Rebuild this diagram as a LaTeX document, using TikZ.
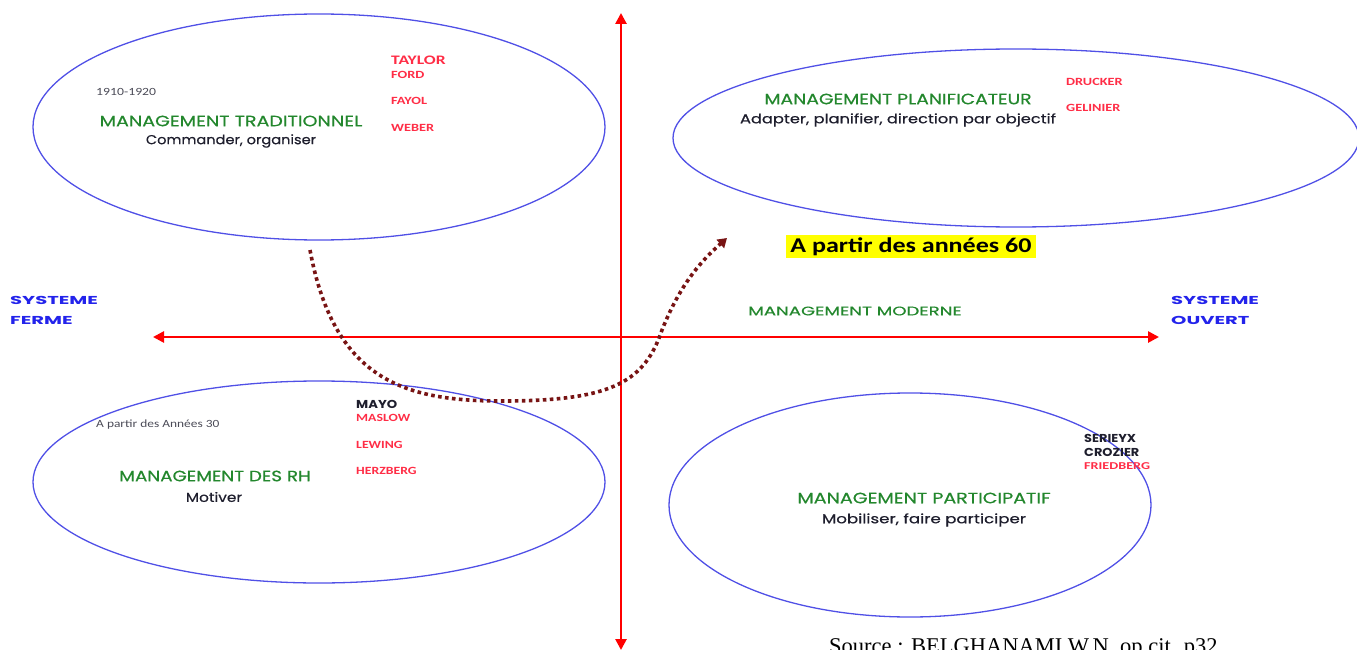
\documentclass[tikz,border=0pt]{standalone}
\usepackage{fontspec}
\usepackage{graphicx}
\setmainfont{Liberation Serif}
\newfontfamily\comicfont{Poppins}
\newfontfamily\comicheavy{Poppins}[FakeBold=0.5]
\newfontfamily\calfont{Carlito}
\usetikzlibrary{shapes.geometric,arrows.meta}

\definecolor{ellblue}{RGB}{80,80,230}
\definecolor{mgreen}{RGB}{35,135,45}
\definecolor{nred}{RGB}{255,45,70}
\definecolor{sysblue}{RGB}{35,35,235}
\definecolor{darktxt}{RGB}{30,30,45}
\definecolor{curvered}{RGB}{120,20,20}
\definecolor{hlyellow}{RGB}{255,255,0}

\newcommand{\wx}[2]{\scalebox{#1}[1]{#2}}

\tikzset{
  zone/.style={ellipse, draw=ellblue, line width=1.3pt, inner sep=0pt},
  mtitle/.style={text=mgreen, inner sep=0pt, font=\comicheavy\fontsize{15}{15}\selectfont},
  mverb/.style={text=darktxt, inner sep=0pt, font=\comicheavy\fontsize{13}{13}\selectfont},
  author/.style={anchor=west, text=nred, inner sep=0pt, font=\calfont\bfseries\fontsize{11}{11}\selectfont},
  dauthor/.style={anchor=west, text=darktxt, inner sep=0pt, font=\comicfont\bfseries\fontsize{11.5}{11.5}\selectfont},
  period/.style={anchor=west, text=darktxt!80, inner sep=0pt, font=\calfont\fontsize{11}{11}\selectfont},
  sysname/.style={anchor=west, text=sysblue, inner sep=0pt, align=left, font=\comicfont\bfseries\fontsize{11.5}{20}\selectfont},
  axisline/.style={draw=red, line width=2.6pt, {Triangle[length=11pt,width=11pt]}-{Triangle[length=11pt,width=11pt]}},
  transition/.style={draw=curvered, line width=3.6pt, dash pattern=on 3.6pt off 3.4pt, -{Triangle[length=9pt,width=11pt]}}
}

\begin{document}
\begin{tikzpicture}[x=1pt, y=-1pt]
  \useasboundingbox (0,0) rectangle (1357,650);
  \clip (0,0) rectangle (1357,650);

  % four management zones
  \node[zone, minimum width=572pt, minimum height=226pt] (trad) at (319,127) {};
  \node[zone, minimum width=686pt, minimum height=178pt] (plan) at (1016,138) {};
  \node[zone, minimum width=572pt, minimum height=202pt] (rh)   at (319,482) {};
  \node[zone, minimum width=482pt, minimum height=224pt] (part) at (910,505) {};

  % axes
  \coordinate (ytop) at (621,13);
  \coordinate (ybot) at (621,650);
  \coordinate (xleft) at (153,337);
  \coordinate (xright) at (1159,337);
  \draw[axisline] (ybot) -- (ytop);
  \draw[axisline] (xleft) -- (xright);

  % axis labels
  \node[sysname] (ferme) at (10,310) {\wx{1.7}{SYSTEME}\\\wx{1.7}{FERME}};
  \node[sysname] (ouvert) at (1171,310) {\wx{1.7}{SYSTEME}\\\wx{1.7}{OUVERT}};
  \node[mtitle, font=\comicheavy\fontsize{12.5}{12.5}\selectfont] (moderne) at (855,311) {\wx{1.45}{MANAGEMENT MODERNE}};

  % traditional management
  \node[period] (d1910) at (96,92) {\wx{1.25}{1910-1920}};
  \node[mtitle] (ttrad) at (231,121) {\wx{1.27}{MANAGEMENT TRADITIONNEL}};
  \node[mverb] (vtrad) at (231,141) {\wx{1.12}{Commander, organiser}};
  \node[author, font=\calfont\bfseries\fontsize{13}{13}\selectfont] (taylor) at (391,60) {\wx{1.35}{TAYLOR}};
  \node[author] (ford) at (391,75) {\wx{1.3}{FORD}};
  \node[author] (fayol) at (391,101) {\wx{1.3}{FAYOL}};
  \node[author] (weber) at (391,128) {\wx{1.3}{WEBER}};

  % planning management
  \node[mtitle] (tplan) at (898,99) {\wx{1.25}{MANAGEMENT PLANIFICATEUR}};
  \node[mverb] (vplan) at (898,120) {\wx{1.25}{Adapter, planifier, direction par objectif}};
  \node[author] (drucker) at (1066,82) {\wx{1.3}{DRUCKER}};
  \node[author] (gelinier) at (1066,108) {\wx{1.3}{GELINIER}};
  \node[fill=hlyellow, minimum width=250pt, minimum height=23pt, inner sep=0pt, font=\calfont\bfseries\fontsize{21}{21}\selectfont] (annees60) at (911,246.5) {\wx{1.24}{A partir des années 60}};

  % human resources management
  \node[period] (d30) at (96,425) {\wx{1.22}{A partir des Années 30}};
  \node[mtitle] (trh) at (215,476) {\wx{1.22}{MANAGEMENT DES RH}};
  \node[mverb] (vrh) at (214,497) {\wx{1.18}{Motiver}};
  \node[dauthor] (mayo) at (356,404) {\wx{1.15}{MAYO}};
  \node[author] (maslow) at (356,418) {\wx{1.25}{MASLOW}};
  \node[author] (lewing) at (356,445) {\wx{1.25}{LEWING}};
  \node[author] (herzberg) at (356,471) {\wx{1.25}{HERZBERG}};

  % participative management
  \node[dauthor] (serieyx) at (1084,438) {\wx{1.12}{SERIEYX}};
  \node[dauthor] (crozier) at (1084,452) {\wx{1.12}{CROZIER}};
  \node[author, font=\calfont\bfseries\fontsize{10.5}{10.5}\selectfont] (friedberg) at (1084,466) {\wx{1.35}{FRIEDBERG}};
  \node[mtitle] (tpart) at (924,498) {\wx{1.27}{MANAGEMENT PARTICIPATIF}};
  \node[mverb] (vpart) at (924,520) {\wx{1.28}{Mobiliser, faire participer}};

  % shift from traditional towards planning management
  \coordinate (sstart) at (310,250);
  \coordinate (send) at (727,238);
  \draw[transition] (sstart) .. controls (335,385) and (410,402) .. (510,401)
                         .. controls (615,400) and (645,380) .. (662,330)
                         .. controls (680,285) and (700,262) .. (send);

  % source line
  \node[anchor=base west, inner sep=0pt, font=\fontsize{22.5}{22.5}\selectfont] (source) at (829,653) {Source : BELGHANAMI W.N. op.cit. p32};
\end{tikzpicture}
\end{document}
